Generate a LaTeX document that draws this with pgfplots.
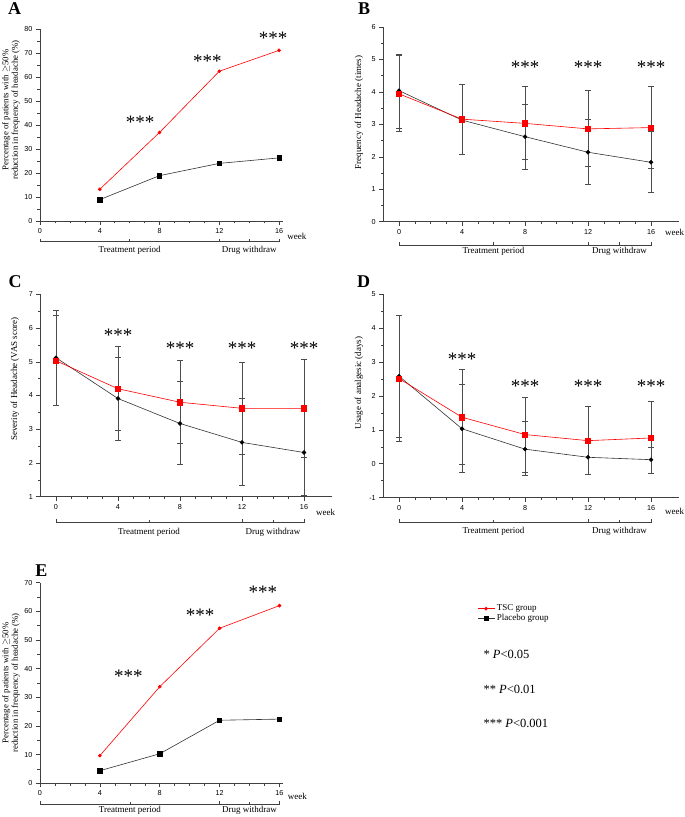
\documentclass[border=0pt]{standalone}
\usepackage{pgfplots}
\pgfplotsset{compat=1.18}
\usepackage{fontspec}
\setmainfont{Liberation Serif}
\newfontfamily\sansnum{Liberation Sans}

\newcommand\tickfont{\sansnum\fontsize{7.2}{8}\selectfont}
\newcommand\labfont{\fontsize{9}{10}\selectfont}
\newcommand\ylabfont{\fontsize{8.8}{9.6}\selectfont}
\newcommand\starfont{\fontsize{19}{19}\selectfont}
\newcommand\panelfont{\bfseries\fontsize{18}{18}\selectfont}

\pgfplotsset{
  panel/.style={
    scale only axis, anchor=south west, clip=false,
    axis lines*=left, tick align=outside,
    axis line style={black!75, line width=0.6pt},
    every tick/.style={black!75, line width=0.5pt},
    major tick length=4pt, minor tick length=2.5pt,
    xtick={0,4,8,12,16}, minor x tick num=3,
    minor y tick num=1,
    tick label style={font=\tickfont},
    /pgf/number format/assume math mode=true,
  },
  tsc/.style={red, line width=0.6pt, mark options={solid, fill=red, draw=red}},
  pla/.style={black!80, line width=0.6pt, mark options={solid, fill=black, draw=black}},
  ebars/.style={error bars/.cd, y dir=both, y explicit,
    error bar style={black!70, line width=0.6pt},
    error mark options={black!70, rotate=90, mark size=2.8pt, line width=0.6pt}},
}

% #1 ymin, #2 bracket depth, #3 text depth, #4 week depth, #5 week x
\newcommand\bracket[5]{%
  \draw[black!75, line width=0.5pt]
    ([yshift=3pt-#2pt]axis cs:0,#1) -- ([yshift=-#2pt]axis cs:0,#1)
    -- ([yshift=-#2pt]axis cs:16,#1) -- ([yshift=3pt-#2pt]axis cs:16,#1);
  \draw[black!75, line width=0.5pt]
    ([yshift=-#2pt]axis cs:12,#1) -- ([yshift=3pt-#2pt]axis cs:12,#1);
  \draw[black!75, line width=0.5pt]
    ([yshift=-#2pt]axis cs:6,#1) -- ([yshift=2.5pt-#2pt]axis cs:6,#1);
  \draw[black!75, line width=0.5pt]
    ([yshift=-#2pt]axis cs:14,#1) -- ([yshift=2.5pt-#2pt]axis cs:14,#1);
  \node[font=\labfont] at ([yshift=-#3pt]axis cs:6,#1) {Treatment period};
  \node[font=\labfont] at ([yshift=-#3pt]axis cs:14,#1) {Drug withdraw};
  \node[font=\labfont] at ([yshift=-#4pt]axis cs:#5,#1) {week};
}
\newcommand\stars[2]{\node[font=\starfont] at (axis cs:#1,#2) {***};}

\begin{document}
\begin{tikzpicture}
\path[use as bounding box] (0pt,0pt) rectangle (685pt,817pt);

% ---------- A ----------
\begin{axis}[panel, at={(40pt,596pt)}, width=242.8pt, height=192pt,
  xmin=0, xmax=16.25, ymin=0, ymax=80, ytick={0,10,...,80}]
\addplot[pla, mark=square*, mark size=2.2pt] coordinates {(4,8.9)(8,18.9)(12,24.0)(16,26.3)};
\addplot[tsc, mark=*, mark size=1.5pt] coordinates {(4,13.2)(8,36.9)(12,62.4)(16,71.1)};
\stars{6.7}{41}\stars{11.2}{66.4}\stars{15.6}{76}
\bracket{0}{20.7}{29}{15}{17.2}
\end{axis}

% ---------- B ----------
\begin{axis}[panel, at={(383.25pt,595.3pt)}, width=296.1pt, height=194.7pt,
  xmin=-1, xmax=17.8, ymin=0, ymax=6, ytick={0,...,6}]
\addplot[pla, mark=*, mark size=1.9pt, ebars] coordinates {
 (0,4.04) += (0,1.12) -= (0,1.16)
 (4,3.13) += (0,1.11) -= (0,1.06)
 (8,2.62) += (0,1.00) -= (0,0.99)
 (12,2.14) += (0,1.02) -= (0,0.98)
 (16,1.83) += (0,0.95) -= (0,0.91)};
\addplot[tsc, mark=square*, mark size=2.7pt, ebars] coordinates {
 (0,3.94) += (0,1.18) -= (0,1.15)
 (4,3.16) += (0,1.08) -= (0,1.09)
 (8,3.03) += (0,1.15) -= (0,1.11)
 (12,2.86) += (0,1.18) -= (0,1.15)
 (16,2.90) += (0,1.28) -= (0,1.26)};
\stars{8}{4.75}\stars{12}{4.75}\stars{16}{4.75}
\bracket{0}{23.3}{30}{10.5}{17.5}
\end{axis}

% ---------- C ----------
\begin{axis}[panel, at={(40.5pt,320.3pt)}, width=291.4pt, height=202.4pt,
  xmin=-1, xmax=17.8, ymin=1, ymax=7, ytick={1,...,7}]
\addplot[pla, mark=*, mark size=1.9pt, ebars] coordinates {
 (0,5.12) += (0,1.41) -= (0,1.40)
 (4,3.91) += (0,1.21) -= (0,1.24)
 (8,3.17) += (0,1.26) -= (0,1.21)
 (12,2.61) += (0,1.30) -= (0,1.28)
 (16,2.31) += (0,1.26) -= (0,1.26)};
\addplot[tsc, mark=square*, mark size=2.7pt, ebars] coordinates {
 (0,5.03) += (0,1.36) -= (0,1.33)
 (4,4.20) += (0,1.27) -= (0,1.24)
 (8,3.80) += (0,1.25) -= (0,1.23)
 (12,3.62) += (0,1.37) -= (0,1.35)
 (16,3.62) += (0,1.45) -= (0,1.45)};
\stars{4}{5.79}\stars{8}{5.4}\stars{12}{5.4}\stars{16}{5.4}
\bracket{1}{25.6}{35.3}{15.6}{17.4}
\end{axis}

% ---------- D ----------
\begin{axis}[panel, at={(383.25pt,319.3pt)}, width=296.1pt, height=203.7pt,
  xmin=-1, xmax=17.8, ymin=-1, ymax=5, ytick={-1,...,5}]
\addplot[pla, mark=*, mark size=1.9pt, ebars] coordinates {
 (0,2.58) += (0,1.80) -= (0,1.81)
 (4,1.03) += (0,1.30) -= (0,1.29)
 (8,0.43) += (0,0.81) -= (0,0.78)
 (12,0.19) += (0,0.49) -= (0,0.49)
 (16,0.12) += (0,0.37) -= (0,0.40)};
\addplot[tsc, mark=square*, mark size=2.7pt, ebars] coordinates {
 (0,2.51) += (0,1.87) -= (0,1.86)
 (4,1.37) += (0,1.41) -= (0,1.40)
 (8,0.86) += (0,1.11) -= (0,1.10)
 (12,0.68) += (0,1.02) -= (0,0.98)
 (16,0.76) += (0,1.08) -= (0,1.04)};
\stars{4}{3.08}\stars{8}{2.27}\stars{12}{2.27}\stars{16}{2.27}
\bracket{-1}{24.6}{34}{14}{17.5}
\end{axis}

% ---------- E ----------
\begin{axis}[panel, at={(40pt,33.7pt)}, width=243.2pt, height=200.6pt,
  xmin=0, xmax=16.25, ymin=0, ymax=70, ytick={0,10,...,70},
  legend style={draw=none, fill=none, at={(axis description cs:1.797,0.9)},
    anchor=north west, font=\labfont, row sep=-2pt, inner sep=0pt},
  legend cell align=left]
\addplot[tsc, mark=*, mark size=1.5pt] coordinates {(4,9.65)(8,33.7)(12,54.1)(16,62.0)};
\addlegendentry{TSC group}
\addplot[pla, mark=square*, mark size=2.2pt] coordinates {(4,4.4)(8,10.3)(12,22.0)(16,22.4)};
\addlegendentry{Placebo group}
\stars{5.9}{37.2}\stars{10.7}{58.7}\stars{14.9}{66.5}
\bracket{0}{21}{27}{12.7}{17.2}
\end{axis}

% y labels
\node[rotate=90, align=center, font=\ylabfont, inner sep=0pt] at (11pt,707pt)
  {Percentage of patients with $\geq$50\%\\reduction in frequency of headache (\%)};
\node[rotate=90, font=\labfont] at (359pt,704.5pt) {Frequency of Headache (times)};
\node[rotate=90, font=\labfont] at (15pt,438pt) {Severity of Headache (VAS score)};
\node[rotate=90, font=\labfont] at (359pt,434pt) {Usage of analgesic (days)};
\node[rotate=90, align=center, font=\ylabfont, inner sep=0pt] at (11pt,134pt)
  {Percentage of patients with $\geq$50\%\\reduction in frequency of headache (\%)};

% panel letters
\node[font=\panelfont] at (14.5pt,808pt) {A};
\node[font=\panelfont] at (364pt,808pt) {B};
\node[font=\panelfont] at (15pt,535.5pt) {C};
\node[font=\panelfont] at (363.5pt,535.5pt) {D};
\node[font=\panelfont] at (41.5pt,246.5pt) {E};

% significance key
\node[anchor=west, font=\fontsize{12.5}{13}\selectfont] at (480pt,163pt) {* \textit{P}<0.05};
\node[anchor=west, font=\fontsize{12.5}{13}\selectfont] at (480pt,128pt) {** \textit{P}<0.01};
\node[anchor=west, font=\fontsize{12.5}{13}\selectfont] at (480pt,94pt) {*** \textit{P}<0.001};
\end{tikzpicture}
\end{document}
